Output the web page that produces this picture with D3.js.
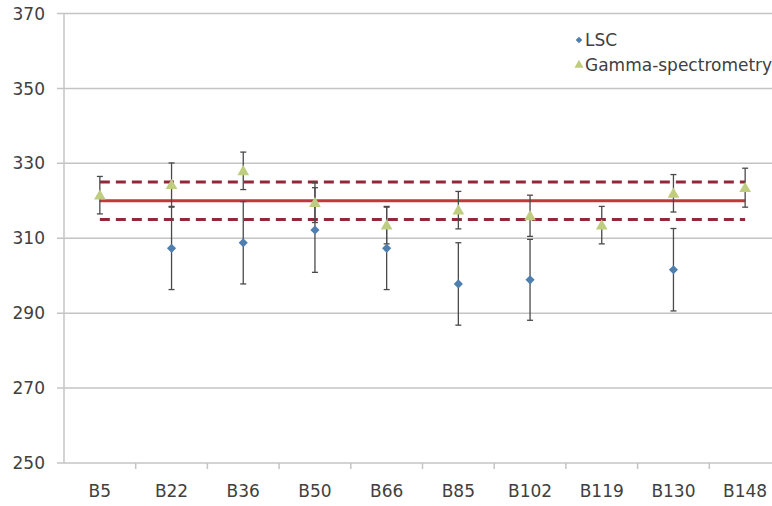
<!DOCTYPE html>
<html>
<head>
<meta charset="utf-8">
<script src="https://cdn.jsdelivr.net/npm/d3@7"></script>
<style>
  html, body { margin: 0; padding: 0; background: #fff; }
  svg text { font-family: "DejaVu Sans", sans-serif; fill: #404040; }
</style>
</head>
<body>
<svg id="chart" width="772" height="506"></svg>
<script>
// samples along the x axis
const categories = ['B5', 'B22', 'B36', 'B50', 'B66', 'B85', 'B102', 'B119', 'B130', 'B148'];

// LSC results and their uncertainties (null where no point is drawn)
const lsc    = [null, 307.3, 308.8, 312.2, 307.3, 297.8, 298.9, null, 301.6, null];
const lscErr = [null, 11, 11, 11.3, 11, 11, 10.8, null, 11, null];

// gamma-spectrometry results and their uncertainties
const gamma    = [321.5, 324.3, 328, 319.5, 313.5, 317.5, 316, 313.5, 322, 323.5];
const gammaErr = [5, 5.8, 5, 5.3, 5, 5, 5.5, 5, 5, 5.2];

// reference value and its band
const reference = 320;
const referenceBand = 5;

const yTicks = [250, 270, 290, 310, 330, 350, 370];

const svg = d3.select('#chart');
const plotLeft = 64, plotRight = 781, plotTop = 13.5, plotBottom = 463;

const x = d3.scaleBand().domain(categories).range([plotLeft, plotRight]);
const y = d3.scaleLinear().domain([250, 370]).range([plotBottom, plotTop]);
const cx = d => x(d) + x.bandwidth() / 2;

// horizontal grid, with short outer ticks
svg.append('g')
    .selectAll('line')
    .data(yTicks.filter(t => t > 250))
    .enter()
    .append('line')
    .attr('x1', plotLeft - 7)
    .attr('x2', plotRight)
    .attr('y1', d => y(d))
    .attr('y2', d => y(d))
    .attr('stroke', '#c4c4c4')
    .attr('stroke-width', 1.5);

// y axis labels
svg.append('g')
    .selectAll('text')
    .data(yTicks)
    .enter()
    .append('text')
    .attr('x', 45)
    .attr('y', d => y(d))
    .attr('dy', '0.36em')
    .attr('text-anchor', 'end')
    .style('font-size', '17px')
    .text(d => d);

// axis lines
svg.append('line')
    .attr('x1', plotLeft).attr('x2', plotLeft)
    .attr('y1', plotTop).attr('y2', plotBottom)
    .attr('stroke', '#c4c4c4').attr('stroke-width', 1.5);

svg.append('line')
    .attr('x1', plotLeft - 7).attr('x2', plotRight)
    .attr('y1', plotBottom).attr('y2', plotBottom)
    .attr('stroke', '#c4c4c4').attr('stroke-width', 1.5);

// x tick marks between categories
svg.append('g')
    .selectAll('line')
    .data(categories.slice(1))
    .enter()
    .append('line')
    .attr('x1', d => x(d)).attr('x2', d => x(d))
    .attr('y1', plotBottom).attr('y2', plotBottom + 6)
    .attr('stroke', '#c4c4c4').attr('stroke-width', 1.5);

// x labels
svg.append('g')
    .selectAll('text')
    .data(categories)
    .enter()
    .append('text')
    .attr('x', d => cx(d))
    .attr('y', 497)
    .attr('text-anchor', 'middle')
    .style('font-size', '17px')
    .text(d => d);

// reference line and band
const x0 = cx(categories[0]), x1 = cx(categories[categories.length - 1]);

[reference + referenceBand, reference - referenceBand].forEach(v => {
    svg.append('line')
        .attr('x1', x0).attr('x2', x1)
        .attr('y1', y(v)).attr('y2', y(v))
        .attr('stroke', '#93283a')
        .attr('stroke-width', 3)
        .attr('stroke-dasharray', '10,6');
});

svg.append('line')
    .attr('x1', x0).attr('x2', x1)
    .attr('y1', y(reference)).attr('y2', y(reference))
    .attr('stroke', '#c0383c')
    .attr('stroke-width', 3);

// error bars
function errorBars(values, errs) {
    const pts = categories
        .map((c, i) => ({c, v: values[i], e: errs[i]}))
        .filter(d => d.v !== null);

    const g = svg.append('g')
        .attr('stroke', '#4a4a4a')
        .attr('stroke-width', 1.3);

    g.selectAll('.bar')
        .data(pts)
        .enter()
        .append('line')
        .attr('x1', d => cx(d.c)).attr('x2', d => cx(d.c))
        .attr('y1', d => y(d.v + d.e)).attr('y2', d => y(d.v - d.e));

    [1, -1].forEach(s => {
        g.selectAll(null)
            .data(pts)
            .enter()
            .append('line')
            .attr('x1', d => cx(d.c) - 3).attr('x2', d => cx(d.c) + 3)
            .attr('y1', d => y(d.v + s * d.e)).attr('y2', d => y(d.v + s * d.e));
    });
}

errorBars(lsc, lscErr);
errorBars(gamma, gammaErr);

// markers: excel-style diamond is a square turned 45 degrees
const diamond = d3.symbol().type(d3.symbolSquare).size(42);
const triangle = d3.symbol().type(d3.symbolTriangle).size(60);

svg.append('g')
    .selectAll('path')
    .data(categories.map((c, i) => ({c, v: lsc[i]})).filter(d => d.v !== null))
    .enter()
    .append('path')
    .attr('d', diamond)
    .attr('transform', d => `translate(${cx(d.c)},${y(d.v)}) rotate(45)`)
    .attr('fill', '#4f7fae');

svg.append('g')
    .selectAll('path')
    .data(categories.map((c, i) => ({c, v: gamma[i]})))
    .enter()
    .append('path')
    .attr('d', triangle)
    .attr('transform', d => `translate(${cx(d.c)},${y(d.v) + 1})`)
    .attr('fill', '#bfcd80');

// legend
const legend = svg.append('g');
legend.append('path')
    .attr('d', d3.symbol().type(d3.symbolSquare).size(22))
    .attr('transform', 'translate(579,40) rotate(45)')
    .attr('fill', '#4f7fae');
legend.append('text')
    .attr('x', 585).attr('y', 46)
    .style('font-size', '17px')
    .text('LSC');
legend.append('path')
    .attr('d', d3.symbol().type(d3.symbolTriangle).size(36))
    .attr('transform', 'translate(579,65)')
    .attr('fill', '#bfcd80');
legend.append('text')
    .attr('x', 585).attr('y', 71)
    .style('font-size', '17px')
    .text('Gamma-spectrometry');
</script>
</body>
</html>
